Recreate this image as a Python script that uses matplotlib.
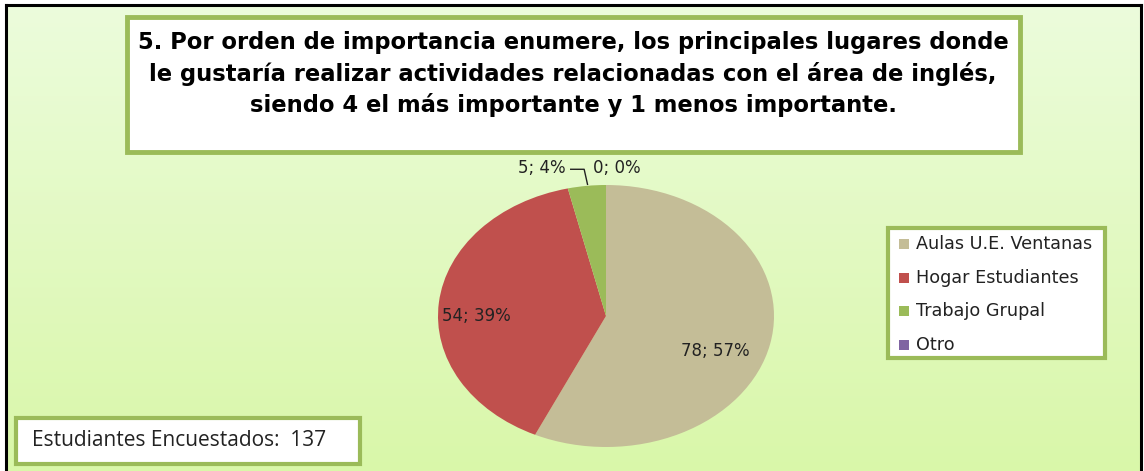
import numpy as np
import matplotlib
matplotlib.use("Agg")
import matplotlib.pyplot as plt
from matplotlib.patches import Rectangle

# datos de la encuesta
categorias = ["Aulas U.E. Ventanas", "Hogar Estudiantes", "Trabajo Grupal", "Otro"]
valores = [78, 54, 5, 0]
colores = ["#c4bd97", "#c0504d", "#9bbb59", "#8064a2"]
total_encuestados = 137
titulo = ("5. Por orden de importancia enumere, los principales lugares donde\n"
          "le gustaría realizar actividades relacionadas con el área de inglés,\n"
          "siendo 4 el más importante y 1 menos importante.")

W, H = 1144, 471
verde = "#9bbb59"
fig = plt.figure(figsize=(W / 100, H / 100), dpi=100)
fig.patch.set_facecolor("white")

# fondo con degradado verde claro
bg = fig.add_axes([6 / W, 0, (1141 - 6) / W, (H - 5) / H])
grad = np.linspace(0, 1, 256).reshape(-1, 1)
top = np.array([0.925, 0.988, 0.862])
bot = np.array([0.851, 0.969, 0.663])
img = top + (bot - top) * grad[:, :, None] * np.ones((1, 1, 3))
bg.imshow(img, aspect="auto", extent=[0, 1, 0, 1], origin="upper")
bg.set_xlim(0, 1); bg.set_ylim(0, 1)
bg.set_xticks([]); bg.set_yticks([])
for s in ["top", "left", "right"]:
    bg.spines[s].set_color("black"); bg.spines[s].set_linewidth(2.2)
bg.spines["bottom"].set_visible(False)

def caja(x0, y0, x1, y1, lw=3.5):
    # caja blanca con borde verde, coords en pixeles (origen arriba)
    r = Rectangle((x0 / W, 1 - y1 / H), (x1 - x0) / W, (y1 - y0) / H,
                  transform=fig.transFigure, facecolor="white",
                  edgecolor=verde, linewidth=lw, zorder=2)
    fig.patches.append(r)

# titulo
caja(127, 17, 1020, 152)
fig.text(573 / W, 1 - 74 / H, titulo, ha="center", va="center",
         fontsize=16.3, fontweight="bold", family="DejaVu Sans", linespacing=1.42,
         color="black", zorder=3)

# pie (elipse: el grafico original esta estirado)
ax = fig.add_axes([438 / W, 1 - 447 / H, 336 / W, 262 / H])
wedges, _ = ax.pie(valores, colors=colores, startangle=90, counterclock=False,
                   wedgeprops=dict(linewidth=0))
ax.set_aspect("auto")
ax.set_xlim(-1, 1); ax.set_ylim(-1, 1)
ax.set_axis_off()

fs_lab = 12
etiquetas = [f"{v}; {round(100 * v / total_encuestados)}%" for v in valores]
pos = [(0.65, -0.27), (-0.77, 0.0)]
for (x, y), t in zip(pos, etiquetas[:2]):
    ax.text(x, y, t, ha="center", va="center", fontsize=fs_lab,
            family="DejaVu Sans", color="#222222")
ax.text(-0.24, 1.13, etiquetas[2], ha="right", va="center", fontsize=fs_lab,
        family="DejaVu Sans", color="#222222", clip_on=False)
ax.text(-0.08, 1.13, etiquetas[3], ha="left", va="center", fontsize=fs_lab,
        family="DejaVu Sans", color="#222222", clip_on=False)
ax.plot([-0.21, -0.13, -0.11], [1.12, 1.12, 1.005], color="#222222",
        linewidth=1, clip_on=False)

# leyenda
caja(888, 228, 1105, 358, lw=3)
for i, (c, lab) in enumerate(zip(colores, categorias)):
    yc = 244 + i * 33.7
    fig.patches.append(Rectangle((899 / W, 1 - (yc + 5) / H), 10 / W, 10 / H,
                                 transform=fig.transFigure, facecolor=c,
                                 edgecolor="none", zorder=3))
    fig.text(916 / W, 1 - yc / H, lab, ha="left", va="center", fontsize=12.7,
             family="DejaVu Sans", color="#222222", zorder=4)

# cuadro de estudiantes
caja(16, 418, 360, 464, lw=3)
fig.text(32 / W, 1 - 440 / H, f"Estudiantes Encuestados:  {total_encuestados}",
         ha="left", va="center", fontsize=15, family="Open Sans",
         color="#222222", zorder=4)

fig.savefig("out.png", dpi=100)
